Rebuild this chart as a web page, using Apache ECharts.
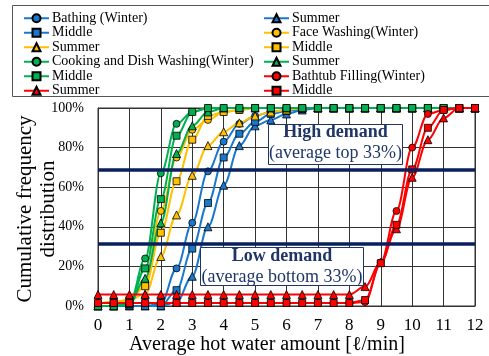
<!DOCTYPE html>
<html><head><meta charset="utf-8">
<script src="https://cdn.jsdelivr.net/npm/echarts@6/dist/echarts.min.js"></script>
<style>html,body{margin:0;padding:0;background:#fff}#c{width:489px;height:356px}</style>
</head><body><div id="c"></div>
<script>
const xs = [0,0.5,1,1.5,2,2.5,3,3.5,4,4.5,5,5.5,6,6.5,7,7.5,8,8.5,9,9.5,10,10.5,11,11.5,12];
const seriesNames = ['Bathing (Winter)','Summer','Middle','Face Washing(Winter)','Summer ','Middle ',
  'Cooking and Dish Washing(Winter)','Summer  ','Middle  ','Bathtub Filling(Winter)','Summer   ','Middle   '];
const bathingWinter = [0,0,0,0,1,19,42,68,83,92,96,98,99,100,100,100,100,100,100,100,100,100,100,100,100];
const bathingSummer = [0,0,0,0,0,2,15,40,61,81,91,94,97,99,100,100,100,100,100,100,100,100,100,100,100];
const bathingMiddle = [0,0,0,0,0,8,29,52,75,87,93,97,98.5,99.5,100,100,100,100,100,100,100,100,100,100,100];
const faceWinter = [1,2,3,12,48,75,89,94,98,99,100,100,100,100,100,100,100,100,100,100,100,100,100,100,100];
const faceSummer = [1,2,3,6,25,46,66,81,88,92.5,96,98,99,100,100,100,100,100,100,100,100,100,100,100,100];
const faceMiddle = [1,2,3,10,37,63,84,96,98,99,100,100,100,100,100,100,100,100,100,100,100,100,100,100,100];
const cookWinter = [0,0,1,24,67,92,98,100,100,100,100,100,100,100,100,100,100,100,100,100,100,100,100,100,100];
const cookSummer = [0,0,1,14,42,77,91,98,100,100,100,100,100,100,100,100,100,100,100,100,100,100,100,100,100];
const cookMiddle = [0,0,1,19,54,86,98,100,100,100,100,100,100,100,100,100,100,100,100,100,100,100,100,100,100];
const tubWinter = [1.5,1.5,1.5,1.5,1.5,1.5,1.5,1.5,1.5,1.5,1.5,1.5,1.5,1.5,1.5,1.5,1.5,2,22,48,80,97,99,100,100];
const tubSummer = [5.8,5.8,5.8,5.8,5.8,5.8,5.8,5.8,5.8,5.8,5.8,5.8,5.8,5.8,5.8,5.8,5.8,9.8,22,39,65,84,95,100,100];
const tubMiddle = [1.5,1.5,1.5,1.5,1.5,1.5,1.5,1.5,1.5,1.5,1.5,1.5,1.5,1.5,1.5,1.5,1.5,3,21.6,41,69,90,99,100,100];
const demandLines = [68.6, 31.3];
const xTicks = [0,1,2,3,4,5,6,7,8,9,10,11,12];
const yTicks = [0,20,40,60,80,100];

const values = [bathingWinter,bathingSummer,bathingMiddle,faceWinter,faceSummer,faceMiddle,
  cookWinter,cookSummer,cookMiddle,tubWinter,tubSummer,tubMiddle];
const colors = ['#1a78cc','#1a78cc','#1a78cc','#ffc000','#ffc000','#ffc000','#00b050','#00b050','#00b050','#ff0000','#ff0000','#ff0000'];
const symbols = ['circle','triangle','rect','circle','triangle','rect','circle','triangle','rect','circle','triangle','rect'];
const FONT = 'Liberation Serif';
const NAVY = '#1f3566';

const series = values.map((v,i)=>({
  name: seriesNames[i], type:'line', smooth:0.35, smoothMonotone:'x',
  data: v.map((y,j)=>[xs[j],y]),
  symbol: symbols[i], symbolSize: symbols[i]==='triangle'?8:7,
  lineStyle:{color:colors[i], width:2},
  itemStyle:{color:colors[i], borderColor:'#000', borderWidth:0.8},
  emphasis:{disabled:true}, animation:false
}));
series[0].markLine = {symbol:'none', silent:true, animation:false,
  lineStyle:{color:'#0a1f5c', width:3.5, type:'solid'}, label:{show:false},
  data: demandLines.map(v=>({yAxis:v}))};

const legendBase = {orient:'vertical', top:6, itemGap:0, itemWidth:25, itemHeight:10,
  textStyle:{fontFamily:FONT, fontSize:14, color:'#000', lineHeight:14.5, padding:[0,0,0,-2]}, selectedMode:false};

const Z = 50;
const chart = echarts.init(document.getElementById('c'));
chart.setOption({
  animation:false,
  textStyle:{fontFamily:FONT},
  grid:{left:98, right:14, top:108, bottom:50, show:true, borderColor:'#333', borderWidth:1},
  legend:[
    Object.assign({}, legendBase, {left:18, data: seriesNames.filter((n,i)=>i%2===0)}),
    Object.assign({}, legendBase, {left:258, data: seriesNames.filter((n,i)=>i%2===1)})
  ],
  xAxis:{type:'value', min:xTicks[0], max:xTicks[xTicks.length-1], interval:1,
    axisLine:{lineStyle:{color:'#333'}}, axisTick:{show:false},
    axisLabel:{fontFamily:FONT, fontSize:17, color:'#000', margin:11},
    splitLine:{lineStyle:{color:'#333', width:1}}},
  yAxis:{type:'value', min:yTicks[0], max:yTicks[yTicks.length-1], interval:20,
    axisLine:{show:true, lineStyle:{color:'#333'}}, axisTick:{show:false},
    axisLabel:{fontFamily:FONT, fontSize:14, color:'#000', margin:14, formatter:'{value}%'},
    splitLine:{lineStyle:{color:'#333', width:1}}},
  series: series,
  graphic:[
    {type:'rect', shape:{x:12.5,y:5.5,width:490,height:91}, style:{fill:'none', stroke:'#555', lineWidth:1}, silent:true},
    {type:'text', x:267, y:345, style:{text:'Average hot water amount [ℓ/min]', font:'20px "Liberation Serif"', fill:'#000', textAlign:'center', textVerticalAlign:'middle'}},
    {type:'text', x:36.5, y:209, rotation:Math.PI/2, style:{text:'Cumulative frequency\ndistribution', font:'21px "Liberation Serif"', lineHeight:23, fill:'#000', textAlign:'center', textVerticalAlign:'middle'}},
    {type:'rect', z:Z, shape:{x:268.5,y:124.5,width:134,height:40}, style:{fill:'#fff', stroke:NAVY, lineWidth:1}},
    {type:'text', z:Z+1, x:335.5, y:132, style:{text:'High demand', font:'bold 18px "Liberation Serif"', fill:NAVY, textAlign:'center', textVerticalAlign:'middle'}},
    {type:'text', z:Z+1, x:335.5, y:153.5, style:{text:'(average top 33%)', font:'18px "Liberation Serif"', fill:NAVY, textAlign:'center', textVerticalAlign:'middle'}},
    {type:'rect', z:Z, shape:{x:200.5,y:247.5,width:163,height:38}, style:{fill:'#fff', stroke:NAVY, lineWidth:1}},
    {type:'text', z:Z+1, x:282, y:256, style:{text:'Low demand', font:'bold 18px "Liberation Serif"', fill:NAVY, textAlign:'center', textVerticalAlign:'middle'}},
    {type:'text', z:Z+1, x:282, y:277, style:{text:'(average bottom 33%)', font:'18px "Liberation Serif"', fill:NAVY, textAlign:'center', textVerticalAlign:'middle'}}
  ]
});
</script></body></html>
